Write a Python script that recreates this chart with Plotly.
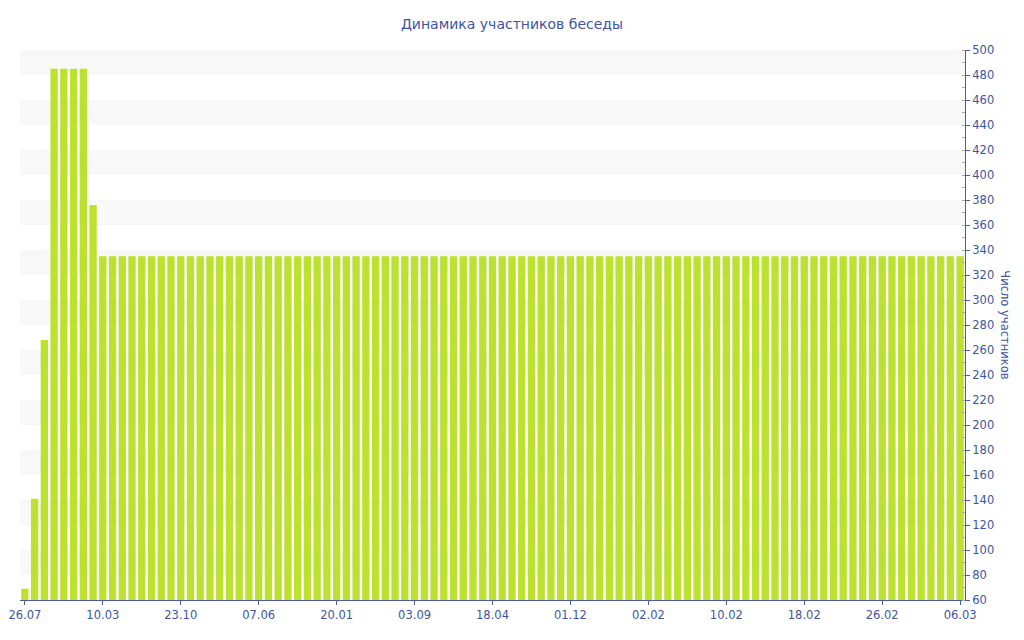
import plotly.graph_objects as go

# Data
early_values = [69, 141, 268, 485, 485, 485, 485, 376]
plateau_value = 335
plateau_count = 89
values = early_values + [plateau_value] * plateau_count
positions = list(range(len(values)))

tick_labels = ["26.07", "10.03", "23.10", "07.06", "20.01", "03.09", "18.04",
               "01.12", "02.02", "10.02", "18.02", "26.02", "06.03"]
tick_step = 8
tick_positions = positions[::tick_step]

blue = "#3d56a0"
axis_color = "#4a5c9c"
bar_color = "#bde12f"

fig = go.Figure()
fig.add_trace(go.Bar(x=positions, y=values, marker=dict(color=bar_color, line=dict(width=0)),
                     hoverinfo="y"))

# alternating background bands
shapes = []
for lo in range(80, 500, 40):
    shapes.append(dict(type="rect", xref="paper", yref="y", x0=0, x1=1, y0=lo, y1=lo + 20,
                       fillcolor="#f8f8f8", line=dict(width=0), layer="below"))

fig.update_layout(
    width=1024, height=640,
    paper_bgcolor="white", plot_bgcolor="white",
    margin=dict(l=20, r=59, t=50, b=40, autoexpand=False),
    font=dict(family="DejaVu Sans, Verdana, sans-serif", size=11.5, color=blue),
    title=dict(text="Динамика участников беседы", x=0.5, xanchor="center", y=0.963, yanchor="middle",
               font=dict(size=14, color=blue)),
    bargap=0.25,
    showlegend=False,
    shapes=shapes,
    xaxis=dict(range=[-0.5, len(values) - 0.5], tickmode="array", tickvals=tick_positions,
               ticktext=tick_labels, showgrid=False, zeroline=False, showline=True,
               linecolor=axis_color, linewidth=1, ticks="outside", ticklen=4, tickcolor=axis_color,
               tickfont=dict(size=11.5, color=blue)),
    yaxis=dict(side="right", range=[60, 500], dtick=20, tick0=60, showgrid=False, zeroline=False,
               showline=True, linecolor=axis_color, linewidth=1, ticks="outside", ticklen=4,
               tickcolor=axis_color, tickfont=dict(size=11.5, color=blue),
               minor=dict(dtick=10, ticks="inside", ticklen=3, tickcolor="#aaaaaa")),
    annotations=[dict(text="Число участников", xref="paper", yref="paper", x=1.042, y=0.5,
                      xanchor="center", yanchor="middle", textangle=90, showarrow=False,
                      font=dict(size=11.5, color=blue))],
)

fig.write_html("out.html", config={"displayModeBar": False},
               post_script="document.body.style.margin='0px';")
